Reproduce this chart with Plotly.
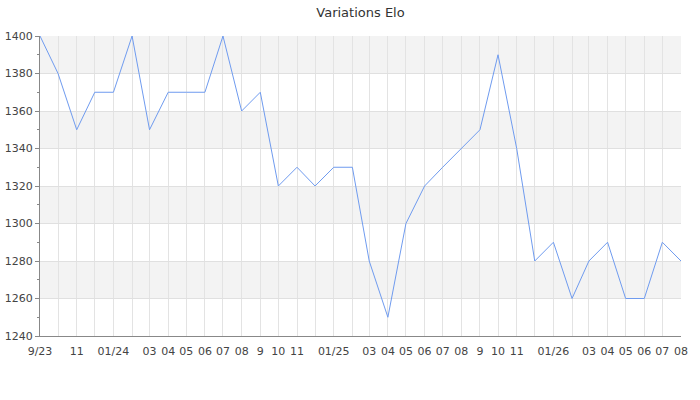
import plotly.graph_objects as go

months = ["2023-09", "2023-10", "2023-11", "2023-12", "2024-01", "2024-02", "2024-03", "2024-04",
          "2024-05", "2024-06", "2024-07", "2024-08", "2024-09", "2024-10", "2024-11", "2024-12",
          "2025-01", "2025-02", "2025-03", "2025-04", "2025-05", "2025-06", "2025-07", "2025-08",
          "2025-09", "2025-10", "2025-11", "2025-12", "2026-01", "2026-02", "2026-03", "2026-04",
          "2026-05", "2026-06", "2026-07", "2026-08"]
elo = [1400, 1380, 1350, 1370, 1370, 1400, 1350, 1370,
       1370, 1370, 1400, 1360, 1370, 1320, 1330, 1320,
       1330, 1330, 1280, 1250, 1300, 1320, 1330, 1340,
       1350, 1390, 1340, 1280, 1290, 1260, 1280, 1290,
       1260, 1260, 1290, 1280]
tick_labels = ["9/23", "", "11", "", "01/24", "", "03", "04", "05", "06", "07", "08", "9", "10", "11", "",
               "01/25", "", "03", "04", "05", "06", "07", "08", "9", "10", "11", "",
               "01/26", "", "03", "04", "05", "06", "07", "08"]
band_ranges = [(1260, 1280), (1300, 1320), (1340, 1360), (1380, 1400)]

dates = [m + "-01" for m in months]

fig = go.Figure()
fig.add_trace(go.Scatter(x=dates, y=elo, mode="lines",
                         line=dict(color="#6f9bef", width=1), hoverinfo="x+y"))

shapes = []
for lo, hi in band_ranges:
    shapes.append(dict(type="rect", xref="paper", yref="y", x0=0, x1=1, y0=lo, y1=hi,
                       fillcolor="#f3f3f3", line=dict(width=0), layer="below"))

fig.update_layout(
    width=700, height=400,
    margin=dict(l=40, r=19, t=36, b=64, autoexpand=False),
    paper_bgcolor="white", plot_bgcolor="white",
    font=dict(family="DejaVu Sans", size=11, color="#444"),
    title=dict(text="Variations Elo", x=0.5, xanchor="center", xref="paper",
               y=1 - 12 / 400, yref="container", yanchor="middle",
               font=dict(size=13, color="#333")),
    showlegend=False,
    shapes=shapes,
    xaxis=dict(
        range=[dates[0], dates[-1]], automargin=False,
        tickvals=dates, ticktext=tick_labels, tickangle=0,
        showgrid=True, gridcolor="#e3e3e3", gridwidth=1,
        showline=True, linecolor="#888", linewidth=1,
        ticks="", zeroline=False, ticklabelstandoff=5,
        tickfont=dict(size=11, color="#444"),
    ),
    yaxis=dict(
        range=[1240, 1400], dtick=20, tick0=1240, automargin=False,
        showgrid=True, gridcolor="#e0e0e0", gridwidth=1,
        showline=True, linecolor="#888", linewidth=1,
        ticks="outside", ticklen=4, tickcolor="#888",
        minor=dict(dtick=10, ticks="outside", ticklen=2, tickcolor="#888", showgrid=False),
        zeroline=False,
        tickfont=dict(size=11, color="#444"),
    ),
)

fig.write_html("out.html", config={"displayModeBar": False},
               post_script="document.body.style.margin='0';document.body.style.overflow='hidden';")
